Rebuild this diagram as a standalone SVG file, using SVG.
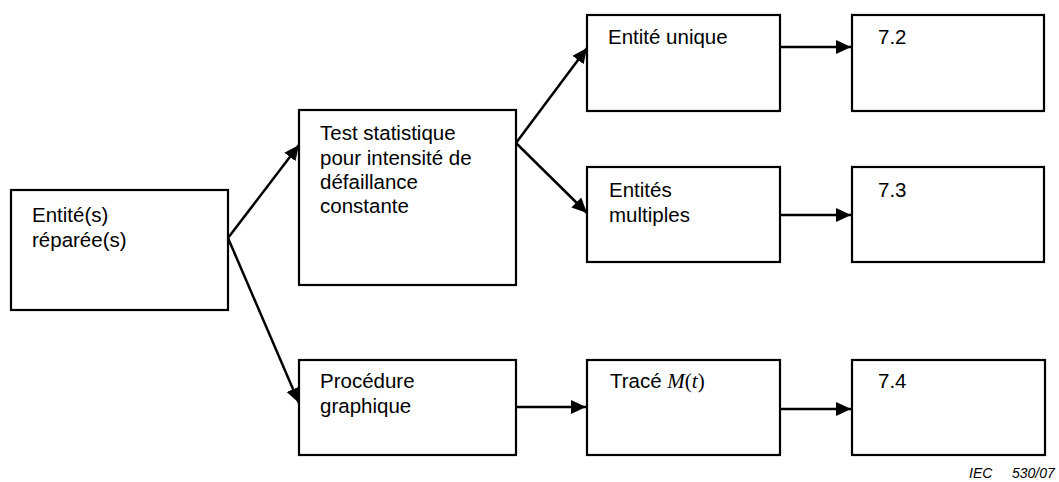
<svg xmlns="http://www.w3.org/2000/svg" width="1059" height="482" viewBox="0 0 1059 482">
<style>
.box{fill:#fff;stroke:#000;stroke-width:2.2}
.t{font-family:"Liberation Sans",Arial,sans-serif;font-size:20.5px;fill:#000}
.tm{font-family:"Liberation Serif","Times New Roman",serif;font-size:21px}
.c{fill:none;stroke:#000;stroke-width:2.5}
.iec{font-family:"Liberation Sans",Arial,sans-serif;font-size:14px;font-style:italic;fill:#000}
</style>
<defs>
<marker id="ah" markerUnits="userSpaceOnUse" markerWidth="17" markerHeight="16" refX="15" refY="7" orient="auto">
<path d="M0,0 L15,7 L0,14 z" fill="#000"/>
</marker>
</defs>
<rect width="1059" height="482" fill="#fff"/>
<g id="n1"><rect class="box" x="11" y="190" width="217" height="120"/><text class="t" x="32" y="222">Entité(s)</text><text class="t" x="32" y="247">réparée(s)</text></g>
<g id="n2"><rect class="box" x="299" y="110" width="217" height="175"/><text class="t" x="320" y="140">Test statistique</text><text class="t" x="320" y="165">pour intensité de</text><text class="t" x="320" y="189">défaillance</text><text class="t" x="320" y="213">constante</text></g>
<g id="n3"><rect class="box" x="587" y="15" width="193" height="96"/><text class="t" x="608" y="44">Entité unique</text></g>
<g id="n4"><rect class="box" x="852" y="15" width="192" height="96"/><text class="t" x="878" y="44">7.2</text></g>
<g id="n5"><rect class="box" x="587" y="167" width="193" height="95"/><text class="t" x="609" y="197">Entités</text><text class="t" x="609" y="222">multiples</text></g>
<g id="n6"><rect class="box" x="852" y="167" width="192" height="95"/><text class="t" x="878" y="197">7.3</text></g>
<g id="n7"><rect class="box" x="299" y="360" width="217" height="95"/><text class="t" x="320" y="388">Procédure</text><text class="t" x="320" y="413">graphique</text></g>
<g id="n8"><rect class="box" x="587" y="360" width="193" height="95"/><text class="t" x="610" y="388">Tracé <tspan class="tm" font-style="italic">M</tspan><tspan class="tm">(</tspan><tspan class="tm" font-style="italic">t</tspan><tspan class="tm">)</tspan></text></g>
<g id="n9"><rect class="box" x="852" y="360" width="193" height="95"/><text class="t" x="878" y="388">7.4</text></g>
<g id="connectors">
<line class="c" x1="228" y1="238" x2="299" y2="145" marker-end="url(#ah)"/>
<line class="c" x1="228" y1="238" x2="299" y2="403" marker-end="url(#ah)"/>
<line class="c" x1="516" y1="143" x2="587" y2="48" marker-end="url(#ah)"/>
<line class="c" x1="516" y1="143" x2="587" y2="213" marker-end="url(#ah)"/>
<line class="c" x1="780" y1="47" x2="851" y2="47" marker-end="url(#ah)"/>
<line class="c" x1="780" y1="215" x2="851" y2="215" marker-end="url(#ah)"/>
<line class="c" x1="516" y1="407" x2="586" y2="407" marker-end="url(#ah)"/>
<line class="c" x1="780" y1="409" x2="851" y2="409" marker-end="url(#ah)"/>
</g>
<text class="iec" x="969" y="478">IEC<tspan x="1012">530/07</tspan></text>
</svg>
